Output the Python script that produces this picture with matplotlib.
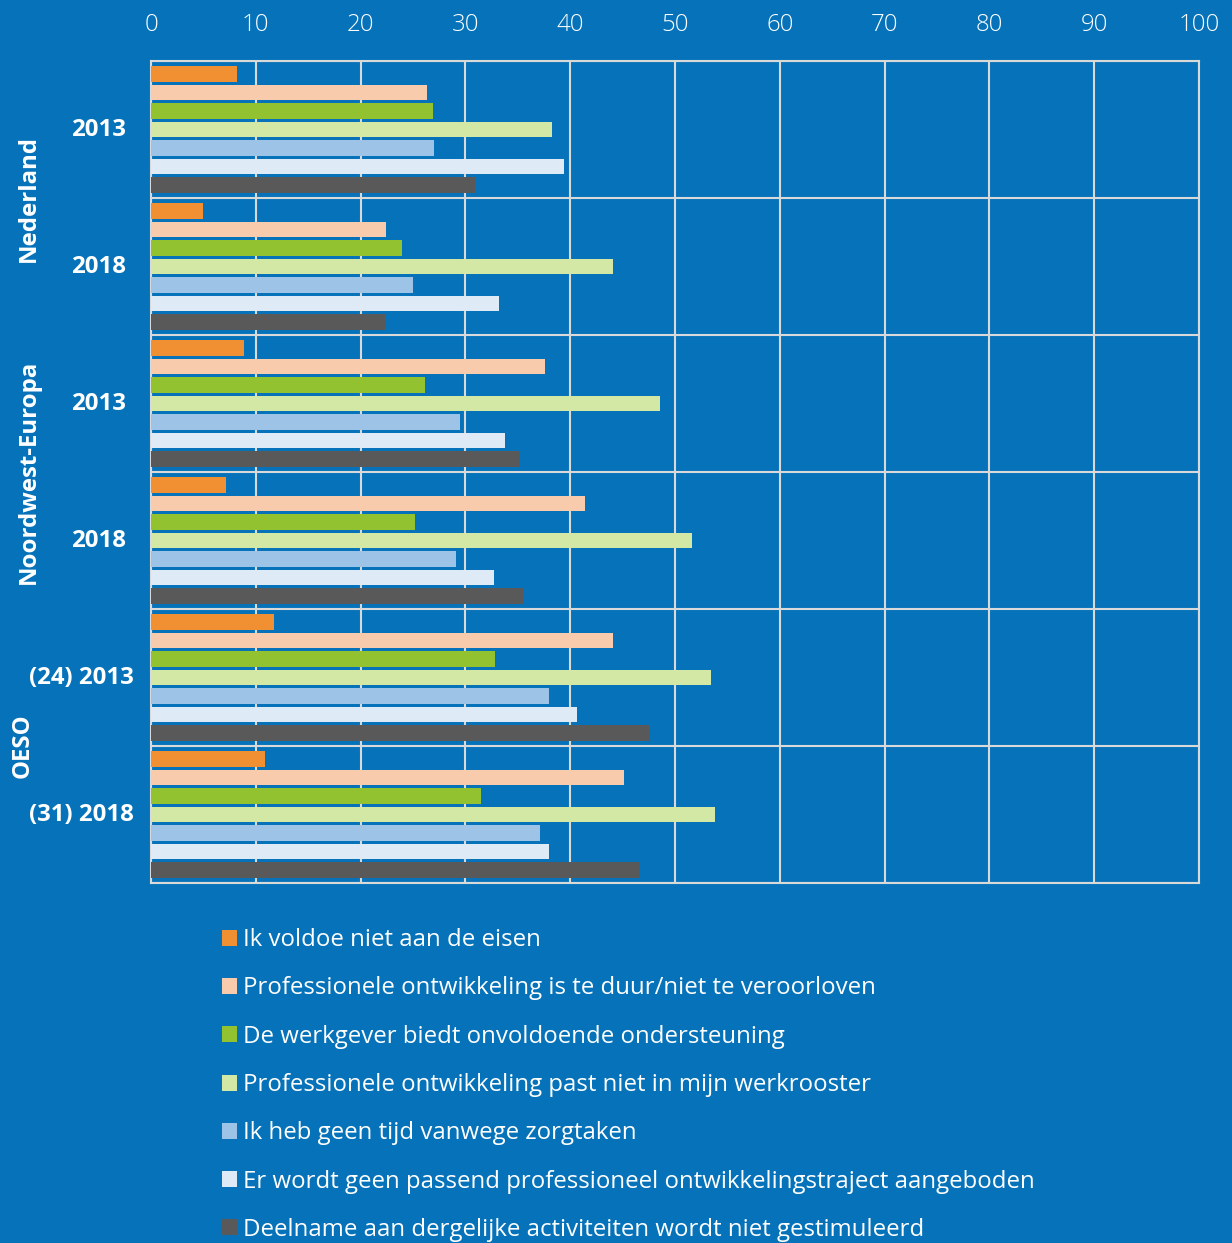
import matplotlib.pyplot as plt
import matplotlib.transforms as mtransforms
from matplotlib.patches import Patch

plt.rcParams['font.family'] = ['Open Sans', 'DejaVu Sans']

# data
years = ['2013', '2018', '2013', '2018', '(24) 2013', '(31) 2018']
regions = ['Nederland', 'Noordwest-Europa', 'OESO']
reasons = [
    'Ik voldoe niet aan de eisen',
    'Professionele ontwikkeling is te duur/niet te veroorloven',
    'De werkgever biedt onvoldoende ondersteuning',
    'Professionele ontwikkeling past niet in mijn werkrooster',
    'Ik heb geen tijd vanwege zorgtaken',
    'Er wordt geen passend professioneel ontwikkelingstraject aangeboden',
    'Deelname aan dergelijke activiteiten wordt niet gestimuleerd',
]
# one list per reason, values for the 6 groups (top to bottom)
eisen = [8.2, 5.0, 8.9, 7.2, 11.7, 10.9]
te_duur = [26.3, 22.4, 37.6, 41.4, 44.1, 45.1]
werkgever = [26.9, 23.9, 26.1, 25.2, 32.8, 31.5]
werkrooster = [38.3, 44.1, 48.6, 51.6, 53.4, 53.8]
zorgtaken = [27.0, 25.0, 29.5, 29.1, 38.0, 37.1]
geen_traject = [39.4, 33.2, 33.8, 32.7, 40.6, 38.0]
niet_gestimuleerd = [30.9, 22.3, 35.2, 35.5, 47.6, 46.7]
series = [eisen, te_duur, werkgever, werkrooster, zorgtaken, geen_traject, niet_gestimuleerd]
colors = ['#f09033', '#f8cbad', '#93c230', '#d4e8a5', '#9dc3e6', '#deebf7', '#595959']

bg = '#0572b9'
grid_c = '#d9d9d9'

fig = plt.figure(figsize=(12.32, 12.43), dpi=100, facecolor=bg)
ax = fig.add_axes([0.1226, 0.2896, 0.8506, 0.6613])
ax.set_facecolor(bg)

step = 0.135
for j, vals in enumerate(series):
    ys = [g + 0.5 + (j - 3) * step for g in range(len(years))]
    ax.barh(ys, vals, height=0.115, color=colors[j], label=reasons[j], zorder=3)

ax.set_xlim(0, 100)
ax.set_ylim(6, 0)
ax.set_xticks(range(0, 101, 10))
ax.set_yticks(range(7))
ax.set_yticklabels([])
ax.xaxis.tick_top()
ax.tick_params(axis='x', length=0, pad=17, labelsize=17.3, labelcolor='white')
ax.tick_params(axis='y', length=0)
for lbl in ax.get_xticklabels():
    lbl.set_fontweight('light')
ax.grid(True, color=grid_c, linewidth=1.5, zorder=1)
for s in ax.spines.values():
    s.set_color(grid_c)
    s.set_linewidth(1.5)

trans = mtransforms.blended_transform_factory(ax.transAxes, ax.transData)
for g, yr in enumerate(years):
    xr = -0.0162 if g >= 4 else -0.0239
    ax.text(xr, g + 0.5, yr, transform=trans, ha='right', va='center',
            fontsize=17.3, fontweight='bold', color='white')
for k, reg in enumerate(regions):
    xr = -0.123 if k == 2 else -0.1164
    ax.text(xr, 2 * k + 1, reg, transform=trans, rotation=90, ha='center', va='center',
            fontsize=17.3, fontweight='bold', color='white')

handles = [Patch(facecolor=c, edgecolor='none') for c in colors]
leg = fig.legend(handles, reasons, loc='upper left', bbox_to_anchor=(0.172, 0.261),
                 frameon=False, fontsize=17.3, handlelength=0.65, handleheight=0.65,
                 handletextpad=0.25, labelspacing=1.01, borderaxespad=0)
for t in leg.get_texts():
    t.set_color('white')

fig.savefig('out.png', facecolor=bg)
